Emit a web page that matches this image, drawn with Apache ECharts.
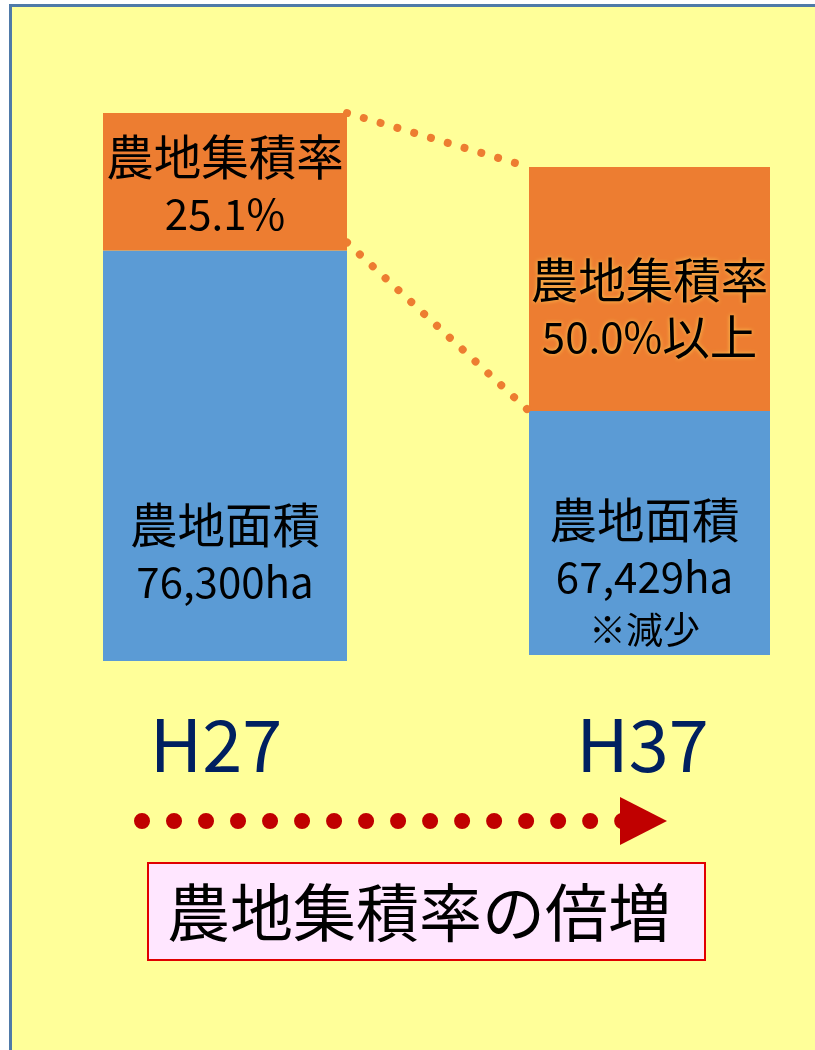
<!DOCTYPE html>
<html>
<head>
<meta charset="utf-8">
<script src="https://cdn.jsdelivr.net/npm/echarts@6/dist/echarts.min.js"></script>
<style>
html,body{margin:0;padding:0;background:#fff;}
#c{width:815px;height:1050px;}
</style>
</head>
<body>
<div id="c"></div>
<script>
// ---- data ----
const years = ['H27', 'H37'];
const areaHa = [76300, 67429];
const ratePct = [25.1, 50.0];
const rateSuffix = ['', '以上'];
const areaNote = ['', '※減少'];
const rateTitle = '農地集積率';
const areaTitle = '農地面積';
const headline = '農地集積率の倍増';

// ---- derived table ----
const consolidated = areaHa.map((a, i) => a * ratePct[i] / 100);
const remaining = areaHa.map((a, i) => a - consolidated[i]);

const FONT = '"Noto Sans CJK JP", "Noto Sans", sans-serif';
const ORANGE = '#ED7D31', BLUE = '#5B9BD5';

const chart = echarts.init(document.getElementById('c'), null, {renderer: 'canvas'});

const grids = [
  {left: 103, right: 468, top: 113, bottom: 389},
  {left: 529, right: 45, top: 167, bottom: 395}
];
const labelMargin = [48, 54];
const orangeDist = [15.5, 84.5];
const blueDist = [245.5, 80.5];
const hPad = [18, 14];

const xAxes = years.map((y, i) => ({
  type: 'category', gridIndex: i, data: [y],
  axisLine: {show: false}, axisTick: {show: false}, splitLine: {show: false},
  axisLabel: {
    show: true, fontSize: 72, color: '#002060', fontFamily: FONT,
    margin: labelMargin[i], padding: [0, hPad[i], 0, 0], lineHeight: 72
  }
}));
const yAxes = years.map((y, i) => ({
  type: 'value', gridIndex: i, min: 0, max: areaHa[i], show: false
}));

function richStyles(glow) {
  const sh = glow ? {textShadowColor: 'rgba(255,210,90,0.9)', textShadowBlur: 4} : {};
  return {
    a: Object.assign({fontSize: 47.5, lineHeight: 57, color: '#000', fontFamily: FONT}, sh),
    n: Object.assign({fontSize: 42, lineHeight: 57, color: '#000', fontFamily: FONT}, sh),
    b: {fontSize: 37, lineHeight: 48, color: '#000', fontFamily: FONT}
  };
}

const series = [];
years.forEach((y, i) => {
  const blueText = ['{a|' + areaTitle + '}', '{n|' + areaHa[i].toLocaleString('en-US') + 'ha}'];
  if (areaNote[i]) blueText.push('{b|' + areaNote[i] + '}');
  series.push({
    type: 'bar', xAxisIndex: i, yAxisIndex: i, stack: 's' + i, barWidth: '100%',
    data: [remaining[i]],
    itemStyle: {color: BLUE},
    label: {
      show: true, position: ['50%', blueDist[i]], align: 'center', verticalAlign: 'top',
      offset: [i === 1 ? -5 : 0, 0],
      formatter: () => blueText.join('\n'),
      rich: richStyles(false)
    },
    emphasis: {disabled: true}, animation: false
  });
  const orangeText = ['{a|' + rateTitle + '}',
    '{n|' + ratePct[i].toFixed(1) + '%}' + (rateSuffix[i] ? '{a|' + rateSuffix[i] + '}' : '')];
  series.push({
    type: 'bar', xAxisIndex: i, yAxisIndex: i, stack: 's' + i, barWidth: '100%',
    data: [consolidated[i]],
    itemStyle: {color: ORANGE},
    label: {
      show: true, position: ['50%', orangeDist[i]], align: 'center', verticalAlign: 'top',
      formatter: () => orangeText.join('\n'),
      rich: richStyles(i === 1)
    },
    emphasis: {disabled: true}, animation: false
  });
});

chart.setOption({
  animation: false,
  backgroundColor: 'transparent',
  grid: grids,
  xAxis: xAxes,
  yAxis: yAxes,
  series: series
});

function barRect(seriesIndex) {
  const lay = chart.getModel().getSeriesByIndex(seriesIndex).getData().getItemLayout(0);
  const top = Math.min(lay.y, lay.y + lay.height);
  const bottom = Math.max(lay.y, lay.y + lay.height);
  const left = Math.min(lay.x, lay.x + lay.width);
  const right = Math.max(lay.x, lay.x + lay.width);
  return {top, bottom, left, right};
}
const o1 = barRect(1), o2 = barRect(3);

const connStyle = {stroke: ORANGE, lineWidth: 8, lineDash: [0.01, 17.5], lineCap: 'round'};

chart.setOption({
  graphic: [
    {type: 'rect', z: -100, silent: true,
     shape: {x: 10.5, y: 5.5, width: 900, height: 1100},
     style: {fill: '#FFFF99', stroke: '#4F7AA8', lineWidth: 3}},
    {type: 'line', z: 10, silent: true,
     shape: {x1: o1.right, y1: o1.top, x2: o2.left, y2: o2.top}, style: connStyle},
    {type: 'line', z: 10, silent: true,
     shape: {x1: o1.right, y1: o1.bottom - 8, x2: o2.left, y2: o2.bottom}, style: connStyle},
    {type: 'line', z: 10, silent: true,
     shape: {x1: 142, y1: 821, x2: 623, y2: 821},
     style: {stroke: '#C00000', lineWidth: 16, lineDash: [0.01, 32], lineCap: 'round'}},
    {type: 'polygon', z: 11, silent: true,
     shape: {points: [[620, 797], [620, 845], [667, 821]]},
     style: {fill: '#C00000'}},
    {type: 'rect', z: 10, silent: true,
     shape: {x: 148, y: 863, width: 557, height: 97},
     style: {fill: '#FFE6FF', stroke: '#E00000', lineWidth: 2}},
    {type: 'text', z: 11, silent: true,
     style: {x: 419, y: 912, text: headline, fontSize: 63, fontFamily: FONT,
             fill: '#000', align: 'center', verticalAlign: 'middle'}}
  ]
});
</script>
</body>
</html>
